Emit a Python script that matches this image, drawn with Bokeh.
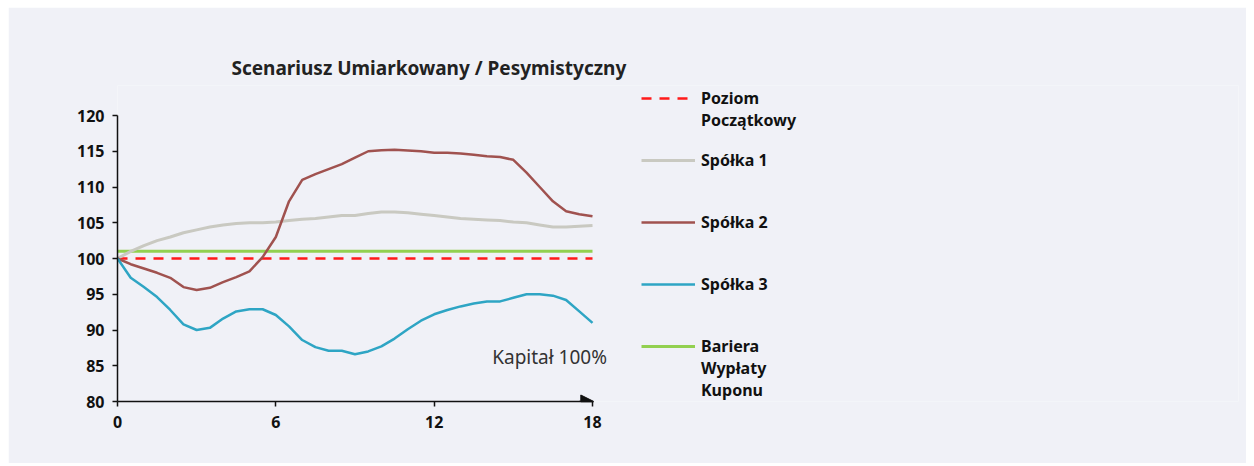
from bokeh.plotting import figure
from bokeh.models import Range1d, FixedTicker, Legend, LegendItem, Title, Label, Arrow, NormalHead
from bokeh.embed import file_html
from bokeh.resources import INLINE

# ---- data ----
months = [i * 0.5 for i in range(37)]
spolka1 = [100, 101.0, 101.8, 102.5, 103.0, 103.6, 104.0, 104.4, 104.7, 104.9, 105.0, 105.0, 105.1,
           105.3, 105.5, 105.6, 105.8, 106.0, 106.0, 106.3, 106.5, 106.5, 106.4, 106.2, 106.0, 105.8,
           105.6, 105.5, 105.4, 105.3, 105.1, 105.0, 104.7, 104.4, 104.4, 104.5, 104.6]
spolka2 = [100, 99.2, 98.6, 98.0, 97.3, 96.0, 95.6, 95.9, 96.7, 97.4, 98.2, 100.2, 103.0,
           108.0, 111.0, 111.8, 112.5, 113.2, 114.1, 115.0, 115.15, 115.2, 115.1, 115.0, 114.8, 114.8,
           114.7, 114.5, 114.3, 114.2, 113.8, 112.0, 110.0, 108.0, 106.6, 106.2, 105.9]
spolka3 = [100, 97.3, 96.0, 94.6, 92.8, 90.8, 90.0, 90.3, 91.6, 92.6, 92.9, 92.9, 92.1,
           90.5, 88.6, 87.6, 87.1, 87.1, 86.6, 87.0, 87.7, 88.8, 90.1, 91.3, 92.2, 92.8,
           93.3, 93.7, 94.0, 94.0, 94.5, 95.0, 95.0, 94.8, 94.2, 92.6, 91.0]
poziom_poczatkowy = 100
bariera = 101
x_ticks = [0, 6, 12, 18]
y_ticks = [80, 85, 90, 95, 100, 105, 110, 115, 120]
title_text = "Scenariusz  Umiarkowany / Pesymistyczny"
note_text = "Kapitał 100%"
legend_labels = ["Poziom\nPoczątkowy", "Spółka 1", "Spółka 2", "Spółka 3", "Bariera\nWypłaty\nKuponu"]

BG = "#f0f1f7"
FONT = "Noto Sans"

OFFX, OFFY = 8, 7
W, H = 1238, 456
LEFT, RIGHT, TOP, BOTTOM = 109, 8, 78, 62
frame_w = W - LEFT - RIGHT
frame_h = H - TOP - BOTTOM
px_per_x = 475 / 18.0
px_per_y = 286 / 40.0

p = figure(width=W, height=H, output_backend="svg", toolbar_location=None,
           x_range=Range1d(0, frame_w / px_per_x), y_range=Range1d(80, 80 + frame_h / px_per_y),
           min_border_left=LEFT, min_border_right=RIGHT, min_border_top=TOP, min_border_bottom=BOTTOM,
           background_fill_color=BG, border_fill_color=BG, outline_line_color=None)
p.margin = (OFFY, 0, 0, OFFX)
p.grid.visible = False

t = Title(text=title_text, text_font=FONT, text_font_size="19px", text_font_style="bold",
          text_color="#222222", align="left", offset=114, standoff=10)
p.add_layout(t, "above")

for ax in (p.xaxis[0], p.yaxis[0]):
    ax.axis_line_color = "#111111"
    ax.axis_line_width = 1.5
    ax.major_tick_line_color = "#111111"
    ax.major_tick_line_width = 1.5
    ax.major_tick_in = 0
    ax.major_tick_out = 5
    ax.minor_tick_line_color = None
    ax.major_label_text_font = FONT
    ax.major_label_text_font_size = "16px"
    ax.major_label_text_font_style = "bold"
    ax.major_label_text_color = "#111111"

p.xaxis[0].ticker = FixedTicker(ticks=x_ticks)
p.xaxis[0].bounds = (x_ticks[0], x_ticks[-1])
p.xaxis[0].major_label_standoff = 9
p.yaxis[0].ticker = FixedTicker(ticks=y_ticks)
p.yaxis[0].bounds = (y_ticks[0], y_ticks[-1])
p.yaxis[0].major_label_standoff = 8

p.add_layout(Arrow(end=NormalHead(size=13, fill_color="#111111", line_color="#111111"),
                   x_start=x_ticks[-1] - 0.5, y_start=y_ticks[0], x_end=x_ticks[-1] + 0.05,
                   y_end=y_ticks[0], line_color="#111111", line_width=1.5))

r_poz = p.line([months[0], months[-1]], [poziom_poczatkowy] * 2, line_color="#ff1a1a",
               line_width=2.5, line_dash="10 8")
r_bar = p.line([months[0], months[-1]], [bariera] * 2, line_color="#92d050", line_width=3)
r1 = p.line(months, spolka1, line_color="#c9c9c1", line_width=3)
r2 = p.line(months, spolka2, line_color="#a0524f", line_width=2.5)
r3 = p.line(months, spolka3, line_color="#2ea5c4", line_width=2.5)

p.add_layout(Label(x=18.55, y=86.2, text=note_text, text_font=FONT, text_font_size="19px",
                   text_color="#333333", text_align="right", text_baseline="middle"))

# one legend per entry, glyph on the first text line
LH = 22.0
renderers = [r_poz, r1, r2, r3, r_bar]
glyph_y = [98, 160, 222, 284, 346]          # page y of each legend glyph
frame_bottom = H - BOTTOM
for lab, rend, gy in zip(legend_labels, renderers, glyph_y):
    n = lab.count("\n") + 1
    padded = "\n" * (n - 1) + lab
    total = 2 * n - 1
    h = total * LH
    bottom = (gy - OFFY) + h / 2.0
    lg = Legend(items=[LegendItem(label=padded, renderers=[rend])],
                location=(524, frame_bottom - bottom), padding=0, margin=0, spacing=0,
                glyph_width=54, glyph_height=20, label_height=20, label_standoff=6,
                label_text_font=FONT, label_text_font_size="16px", label_text_font_style="bold",
                label_text_line_height=1.22,
                label_text_color="#111111", border_line_color=None, background_fill_alpha=0)
    p.add_layout(lg)

open("out.html", "w").write(file_html(p, INLINE))
